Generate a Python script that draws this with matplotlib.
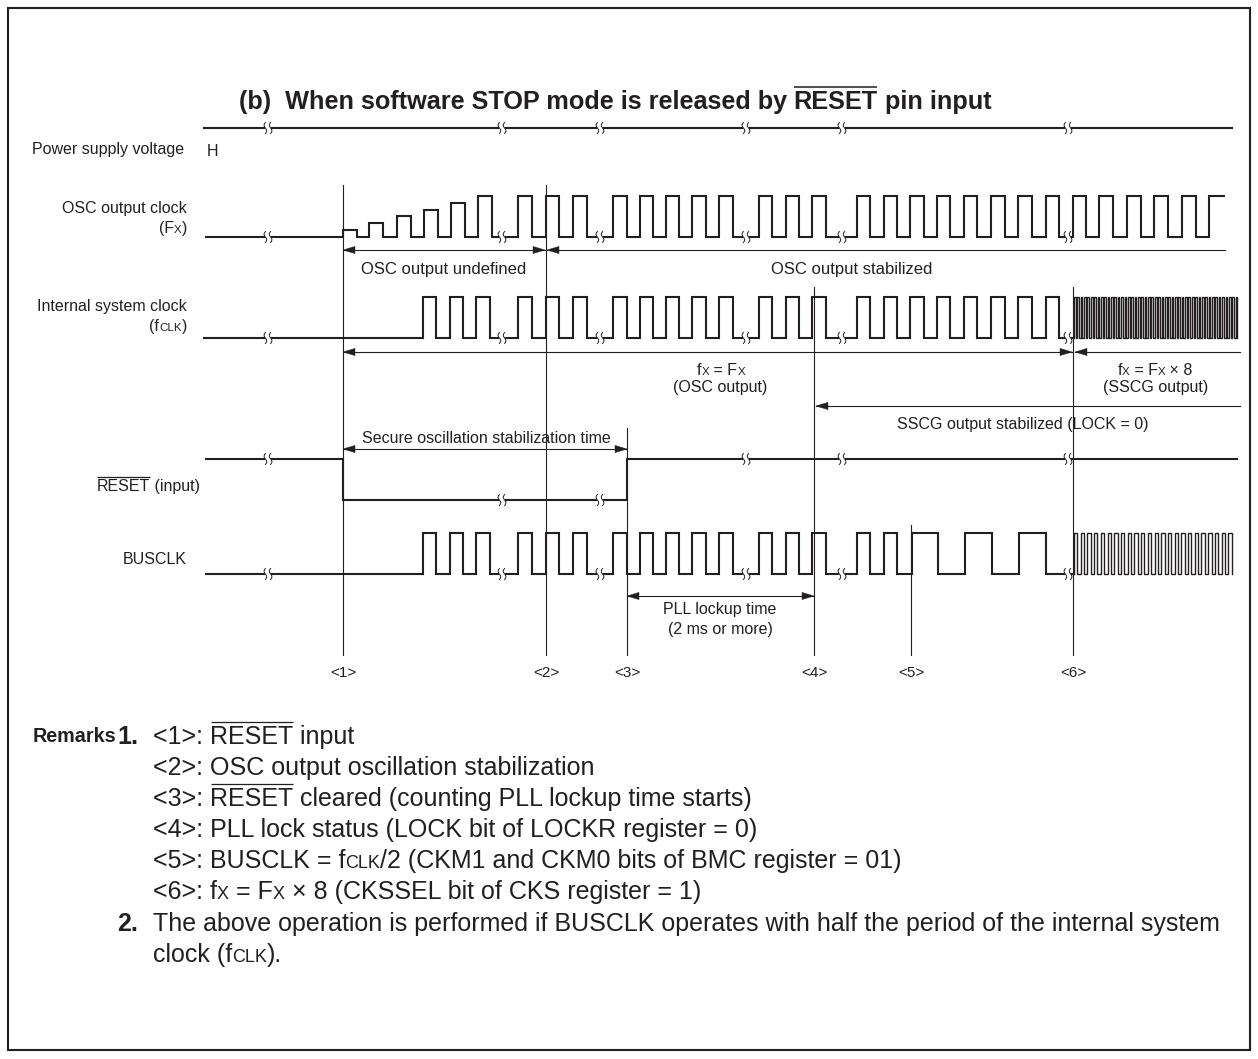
import numpy as np
import matplotlib
matplotlib.use('Agg')
import matplotlib.pyplot as plt
from matplotlib.patches import Polygon, Rectangle

W, H = 1258, 1059
FONT = ['Liberation Sans', 'DejaVu Sans']
INK = '#231f20'

# ---------------- data (pixel time axis) ----------------
TITLE_PRE = "(b)  When software STOP mode is released by "
TITLE_OVER = "RESET"
TITLE_POST = " pin input"

BREAKS = [268, 502, 600, 746, 842, 1068]
MARKER_LABELS = ['<1>', '<2>', '<3>', '<4>', '<5>', '<6>']
MARKER_X = [343, 546, 627, 814, 911, 1073]
MARKER_TOP = [185, 185, 428, 287, 525, 287]

OSC_RISE = [343, 369, 397, 424, 451, 478, 518, 546, 573, 613, 640, 666, 692, 719,
            759, 786, 812, 857, 884, 910, 937, 964, 991, 1018, 1046,
            1073, 1099, 1127, 1154, 1182, 1209]
OSC_FALL = [357, 383, 411, 438, 465, 492, 532, 559, 587, 627, 653, 679, 706, 733,
            772, 799, 826, 870, 897, 924, 950, 977, 1005, 1032, 1059,
            1086, 1113, 1141, 1168, 1196, 1240]
OSC_AMP = [0.17, 0.34, 0.51, 0.66, 0.83] + [1.0] * 26

CLK_RISE = [423, 450, 476, 518, 546, 573, 613, 640, 666, 692, 719,
            759, 786, 812, 857, 884, 910, 937, 964, 991, 1018, 1046]
CLK_FALL = [436, 463, 490, 532, 559, 587, 627, 653, 679, 706, 733,
            772, 799, 826, 870, 897, 924, 950, 977, 1005, 1032, 1059]
SSCG_SPAN = (1074, 1239)
SSCG_PULSES = 49

BUS_RISE = [423, 450, 476, 518, 546, 573, 613, 640, 666, 692, 719,
            759, 786, 812, 857, 884, 912, 965, 1019]
BUS_FALL = [436, 463, 490, 532, 559, 587, 627, 653, 679, 706, 733,
            772, 799, 826, 870, 897, 938, 992, 1046]
BUS_FAST_SPAN = (1074, 1235)
BUS_FAST_PULSES = 24

RESET_EDGES = [343, 627]  # falling, rising

ROW_LABEL_Y = {'power': 148, 'osc': 207, 'osc2': 227, 'clk': 305, 'clk2': 325,
               'reset': 485, 'bus': 558}

REMARKS = [
    [("<1>: ", {}), ("RESET", {'over': True}), (" input", {})],
    [("<2>: OSC output oscillation stabilization", {})],
    [("<3>: ", {}), ("RESET", {'over': True}), (" cleared (counting PLL lockup time starts)", {})],
    [("<4>: PLL lock status (LOCK bit of LOCKR register = 0)", {})],
    [("<5>: BUSCLK = f", {}), ("CLK", {'scale': 0.72}), ("/2 (CKM1 and CKM0 bits of BMC register = 01)", {})],
    [("<6>: f", {}), ("X", {'scale': 0.72}), (" = F", {}), ("X", {'scale': 0.72}), (" \u00d7 8 (CKSSEL bit of CKS register = 1)", {})],
]
REMARK2 = "The above operation is performed if BUSCLK operates with half the period of the internal system"

# ---------------- figure ----------------
fig = plt.figure(figsize=(W / 100, H / 100), dpi=100)
ax = fig.add_axes([0, 0, 1, 1])
ax.set_xlim(0, W)
ax.set_ylim(H, 0)
ax.axis('off')
renderer = fig.canvas.get_renderer()

WAVE_LW = 1.5
THIN_LW = 0.8


def measure(s, size, weight):
    t1 = ax.text(0, 0, '|' + s + '|', fontsize=size, fontweight=weight, family=FONT)
    t2 = ax.text(0, 0, '||', fontsize=size, fontweight=weight, family=FONT)
    w = t1.get_window_extent(renderer).width - t2.get_window_extent(renderer).width
    t1.remove(); t2.remove()
    return w


def rich(x, y, runs, ha='left', size=12, weight='normal'):
    items = []
    for r in runs:
        if isinstance(r, str):
            s, o = r, {}
        else:
            s, o = r
        items.append((s, size * o.get('scale', 1.0), o.get('weight', weight), o.get('over', False)))
    widths = [measure(s, sz, wt) for s, sz, wt, _ in items]
    total = sum(widths)
    if ha == 'right':
        x0 = x - total
    elif ha == 'center':
        x0 = x - total / 2
    else:
        x0 = x
    em = size * 100 / 72
    base = y + 0.358 * em
    for (s, sz, wt, ov), w in zip(items, widths):
        ax.text(x0, base, s, fontsize=sz, fontweight=wt, family=FONT,
                ha='left', va='baseline', color=INK)
        if ov:
            oy = base - 0.86 * em
            ax.plot([x0 + 0.5, x0 + w - 0.5], [oy, oy], color=INK, lw=0.9 if wt == 'normal' else 1.1,
                    solid_capstyle='butt')
        x0 += w


def break_mark(xc, yc):
    ax.add_patch(Rectangle((xc - 2.6, yc - 2.5), 5.2, 5.0, facecolor='white', edgecolor='none', zorder=5))
    t = np.linspace(-1, 1, 30)
    for dx in (-2.6, 2.6):
        ax.plot(xc + dx + 1.3 * np.sin(np.pi * t), yc + 5.5 * t, color=INK, lw=0.7, zorder=6)


def wave(x0, x1, low, high, rises, falls, amps=None, lw=WAVE_LW):
    xs, ys = [x0], [low]
    for i, (r, f) in enumerate(zip(rises, falls)):
        a = amps[i] if amps is not None else 1.0
        yh = low - (low - high) * a
        if f >= x1:
            xs += [r, r, x1]; ys += [low, yh, yh]
            break
        xs += [r, r, f, f]; ys += [low, yh, yh, low]
    else:
        xs.append(x1); ys.append(low)
    ax.plot(xs, ys, color=INK, lw=lw, solid_joinstyle='miter', zorder=3)


def fast_clock(span, n, low, high):
    x0, x1 = span
    p = (x1 - x0) / n
    xs, ys = [], []
    for k in range(n):
        r = x0 + k * p
        xs += [r, r, r + p / 2, r + p / 2]; ys += [low, high, high, low]
    ax.plot(xs, ys, color=INK, lw=1.0, solid_joinstyle='miter', zorder=3)


def arrowhead(x, y, direction):
    L, hw = 12, 3.6
    pts = [(x, y), (x - direction * L, y - hw), (x - direction * L, y + hw)]
    ax.add_patch(Polygon(pts, closed=True, facecolor=INK, edgecolor=INK, lw=0.3, zorder=4))


def harrow(x0, x1, y, left=True, right=True):
    ax.plot([x0, x1], [y, y], color=INK, lw=THIN_LW, zorder=4)
    if left:
        arrowhead(x0, y, -1)
    if right:
        arrowhead(x1, y, 1)


# frame
ax.add_patch(Rectangle((8, 8), 1242, 1042, facecolor='none', edgecolor=INK, lw=1.5))

# title
rich(615, 100, [(TITLE_PRE, {}), (TITLE_OVER, {'over': True}), (TITLE_POST, {})],
     ha='center', size=18.2, weight='bold')

# marker lines
for xm, top, lab in zip(MARKER_X, MARKER_TOP, MARKER_LABELS):
    ax.plot([xm, xm], [top, 655], color=INK, lw=THIN_LW, zorder=2)
    rich(xm, 672, [lab], ha='center', size=11)

# power supply
ax.plot([204, 1232], [128, 128], color=INK, lw=WAVE_LW, zorder=3)
for b in BREAKS:
    break_mark(b, 128)
rich(32, ROW_LABEL_Y['power'], ["Power supply voltage"], size=11.5)
rich(207, 150, ["H"], size=11.5)

# OSC output clock
OSC_LOW, OSC_HIGH = 237, 196
wave(206, 1224, OSC_LOW, OSC_HIGH, OSC_RISE, OSC_FALL, OSC_AMP)
for b in BREAKS:
    break_mark(b, OSC_LOW)
rich(187, ROW_LABEL_Y['osc'], ["OSC output clock"], ha='right', size=11.5)
rich(187, ROW_LABEL_Y['osc2'], ["(F", ("X", {'scale': 0.72}), ")"], ha='right', size=11.5)
harrow(343, 545, 250)
harrow(547, 1225, 250, left=True, right=False)
rich(444, 268, ["OSC output undefined"], ha='center', size=12)
rich(852, 268, ["OSC output stabilized"], ha='center', size=12)

# Internal system clock
CLK_LOW, CLK_HIGH = 338, 297
wave(204, SSCG_SPAN[0], CLK_LOW, CLK_HIGH, CLK_RISE, CLK_FALL)
fast_clock(SSCG_SPAN, SSCG_PULSES, CLK_LOW, CLK_HIGH)
for b in BREAKS:
    break_mark(b, CLK_LOW)
rich(187, ROW_LABEL_Y['clk'], ["Internal system clock"], ha='right', size=11.5)
rich(187, ROW_LABEL_Y['clk2'], ["(f", ("CLK", {'scale': 0.72}), ")"], ha='right', size=11.5)
harrow(343, 1072, 352)
harrow(1075, 1240, 352, left=True, right=False)
rich(721, 369, ["f", ("X", {'scale': 0.72}), " = F", ("X", {'scale': 0.72})], ha='center', size=11.5)
rich(720, 386, ["(OSC output)"], ha='center', size=11.5)
rich(1155, 369, ["f", ("X", {'scale': 0.72}), " = F", ("X", {'scale': 0.72}), " \u00d7 8"], ha='center', size=11.5)
rich(1156, 386, ["(SSCG output)"], ha='center', size=11.5)
harrow(816, 1240, 406, left=True, right=False)
rich(1023, 423, ["SSCG output stabilized (LOCK = 0)"], ha='center', size=11.5)

# RESET
RST_HIGH, RST_LOW = 459, 500
ax.plot([206, RESET_EDGES[0], RESET_EDGES[0], RESET_EDGES[1], RESET_EDGES[1], 1237],
        [RST_HIGH, RST_HIGH, RST_LOW, RST_LOW, RST_HIGH, RST_HIGH],
        color=INK, lw=WAVE_LW, solid_joinstyle='miter', zorder=3)
for b in BREAKS:
    yb = RST_LOW if RESET_EDGES[0] < b < RESET_EDGES[1] else RST_HIGH
    break_mark(b, yb)
rich(200, ROW_LABEL_Y['reset'], [("RESET", {'over': True}), " (input)"], ha='right', size=11.5)
harrow(343, 627, 449)
rich(486, 437, ["Secure oscillation stabilization time"], ha='center', size=11.5)

# BUSCLK
BUS_HIGH, BUS_LOW = 533, 574
wave(206, BUS_FAST_SPAN[0], BUS_LOW, BUS_HIGH, BUS_RISE, BUS_FALL)
fast_clock(BUS_FAST_SPAN, BUS_FAST_PULSES, BUS_LOW, BUS_HIGH)
for b in BREAKS:
    break_mark(b, BUS_LOW)
rich(187, ROW_LABEL_Y['bus'], ["BUSCLK"], ha='right', size=11.5)
harrow(627, 814, 596)
rich(720, 608, ["PLL lockup time"], ha='center', size=11.5)
rich(720, 628, ["(2 ms or more)"], ha='center', size=11.5)

# Remarks
RS = 18.0
rich(33, 735, [("Remarks", {'weight': 'bold'})], size=14.2)
rich(138, 735, [("1.", {'weight': 'bold'})], size=RS, ha='right')
ys = [735, 766, 797, 828, 859, 890]
for yy, runs in zip(ys, REMARKS):
    rich(153, yy, runs, size=RS)
rich(138, 922, [("2.", {'weight': 'bold'})], size=RS, ha='right')
rich(153, 922, [REMARK2], size=RS)
rich(153, 953, ["clock (f", ("CLK", {'scale': 0.72}), ")."], size=RS)

fig.savefig('out.png', dpi=100)
